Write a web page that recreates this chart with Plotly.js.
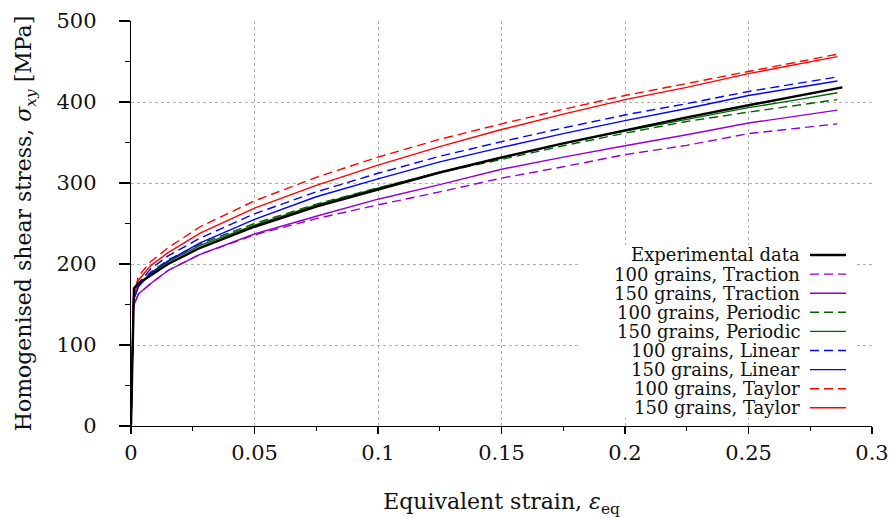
<!DOCTYPE html>
<html><head><meta charset="utf-8">
<script src="https://cdn.plot.ly/plotly-3.0.1.min.js"></script>
<style>html,body{margin:0;padding:0;background:#fff}#chart{width:890px;height:518px}</style>
</head><body><div id="chart"></div>
<script>
// ---- data ----
const strainSim = [0, 0.001, 0.003, 0.008, 0.015, 0.028, 0.05, 0.075, 0.1, 0.125, 0.15, 0.175, 0.2, 0.225, 0.25, 0.27, 0.286];
const strainExp = [0, 0.0012, 0.003, 0.008, 0.015, 0.028, 0.05, 0.075, 0.1, 0.125, 0.15, 0.175, 0.2, 0.225, 0.25, 0.27, 0.288];

const stressExp         = [0, 170, 176, 186, 200, 220, 246, 271, 292, 313, 331.5, 349, 365, 381, 396, 407.6, 418];
const stressTraction100 = [0, 148, 163, 176, 192, 212, 236, 256, 273, 289, 306, 320, 335, 346.5, 361, 368, 373];
const stressTraction150 = [0, 148, 163, 176, 192, 212, 237, 259, 280, 298, 317, 332, 346, 359.5, 374, 383, 390];
const stressPeriodic100 = [0, 155, 175, 190, 205, 225, 250, 274, 294, 313, 329, 346, 361.5, 376, 387.5, 396, 403];
const stressPeriodic150 = [0, 155, 173, 188, 203, 223, 248, 273, 293.5, 313.5, 331, 349, 364, 378.5, 393, 403, 411.5];
const stressLinear100   = [0, 158, 176, 194, 210, 232, 262, 289, 312, 333, 351, 368, 384, 398, 413, 423, 431];
const stressLinear150   = [0, 156, 172, 189, 204, 226, 255, 283, 305, 326, 344, 361, 377, 392, 408, 418, 426];
const stressTaylor100   = [0, 160, 185, 203, 220, 246, 278, 307, 332, 354, 373, 391, 408, 423, 437.5, 449.5, 459];
const stressTaylor150   = [0, 158, 180, 198, 214, 238, 269, 297, 322, 345, 366, 385, 403, 418, 435, 446.5, 456];

const seriesNames = ["Experimental data", "100 grains, Traction", "150 grains, Traction",
  "100 grains, Periodic", "150 grains, Periodic", "100 grains, Linear", "150 grains, Linear",
  "100 grains, Taylor", "150 grains, Taylor"];
const xTickVals = [0, 0.05, 0.1, 0.15, 0.2, 0.25, 0.3];
const xTickText = ["0", "0.05", "0.1", "0.15", "0.2", "0.25", "0.3"];
const yTickVals = [0, 100, 200, 300, 400, 500];

// ---- styles ----
const styles = [
  {color: "#000000", dash: "solid", width: 2.4, x: strainExp, y: stressExp},
  {color: "#9400d3", dash: "9px,5px", width: 1.4, x: strainSim, y: stressTraction100},
  {color: "#9400d3", dash: "solid", width: 1.4, x: strainSim, y: stressTraction150},
  {color: "#006400", dash: "9px,5px", width: 1.4, x: strainSim, y: stressPeriodic100},
  {color: "#006400", dash: "solid", width: 1.4, x: strainSim, y: stressPeriodic150},
  {color: "#0000ff", dash: "9px,5px", width: 1.4, x: strainSim, y: stressLinear100},
  {color: "#0000ff", dash: "solid", width: 1.4, x: strainSim, y: stressLinear150},
  {color: "#ff0000", dash: "9px,5px", width: 1.4, x: strainSim, y: stressTaylor100},
  {color: "#ff0000", dash: "solid", width: 1.4, x: strainSim, y: stressTaylor150}
];
const drawOrder = [1, 2, 3, 4, 5, 6, 7, 8, 0];
const traces = drawOrder.map(i => ({
  type: "scatter", mode: "lines", name: seriesNames[i],
  x: styles[i].x, y: styles[i].y, showlegend: false,
  line: {color: styles[i].color, dash: styles[i].dash, width: styles[i].width, shape: "linear"},
  hoverinfo: "skip"
}));

const W = 890, H = 518, L = 131, R = 872, T = 21, B = 426;
const px2x = p => (p - L) / (R - L);
const py2y = p => (B - p) / (B - T);
const FONT = "DejaVu Serif";

// manual legend (text to the left of the sample, as in the reference)
const shapes = [{type: "rect", xref: "paper", yref: "paper", layer: "above",
  x0: px2x(578), x1: px2x(857), y0: py2y(418), y1: py2y(245),
  fillcolor: "#ffffff", line: {width: 0}}];
const annotations = [];
seriesNames.forEach((n, i) => {
  const yc = 255 + i * 19.1;
  annotations.push({xref: "paper", yref: "paper", x: px2x(802), y: py2y(yc),
    xanchor: "right", yanchor: "middle", text: n, showarrow: false,
    font: {family: FONT, size: 18, color: "#111"}});
  shapes.push({type: "line", xref: "paper", yref: "paper", layer: "above",
    x0: px2x(810), x1: px2x(846), y0: py2y(yc), y1: py2y(yc),
    line: {color: styles[i].color, dash: styles[i].dash, width: styles[i].width}});
});

const layout = {
  width: W, height: H,
  margin: {l: L, r: W - R, t: T, b: H - B, pad: 0},
  paper_bgcolor: "#fff", plot_bgcolor: "#fff",
  font: {family: FONT, size: 21, color: "#111"},
  xaxis: {
    range: [0, 0.3], tickvals: xTickVals, ticktext: xTickText,
    showline: true, linecolor: "#000", linewidth: 1.3,
    ticks: "outside", ticklen: 7, tickwidth: 1.2, tickcolor: "#000",
    showgrid: true, gridcolor: "#b0b0b0", griddash: "dot", gridwidth: 1,
    zeroline: false, ticklabelstandoff: 0,
    minor: {dtick: 0.025, tick0: 0, ticks: "outside", ticklen: 4, tickcolor: "#000", tickwidth: 1, showgrid: false},
    title: {text: "Equivalent strain, <i>ε</i><sub>eq</sub>", font: {family: FONT, size: 22}, standoff: 30}
  },
  yaxis: {
    range: [0, 500], tickvals: yTickVals,
    showline: true, linecolor: "#000", linewidth: 1.3,
    ticks: "outside", ticklen: 11, tickwidth: 1.2, tickcolor: "#000",
    showgrid: true, gridcolor: "#b0b0b0", griddash: "dot", gridwidth: 1,
    zeroline: false, ticklabelstandoff: 18,
    minor: {dtick: 50, tick0: 0, ticks: "outside", ticklen: 5, tickcolor: "#000", tickwidth: 1, showgrid: false},
    title: {text: "Homogenised shear stress, <i>σ<sub>xy</sub></i> [MPa]", font: {family: FONT, size: 22}, standoff: 18}
  },
  shapes: shapes,
  annotations: annotations
};
Plotly.newPlot("chart", traces, layout, {displayModeBar: false, staticPlot: true});
</script></body></html>
